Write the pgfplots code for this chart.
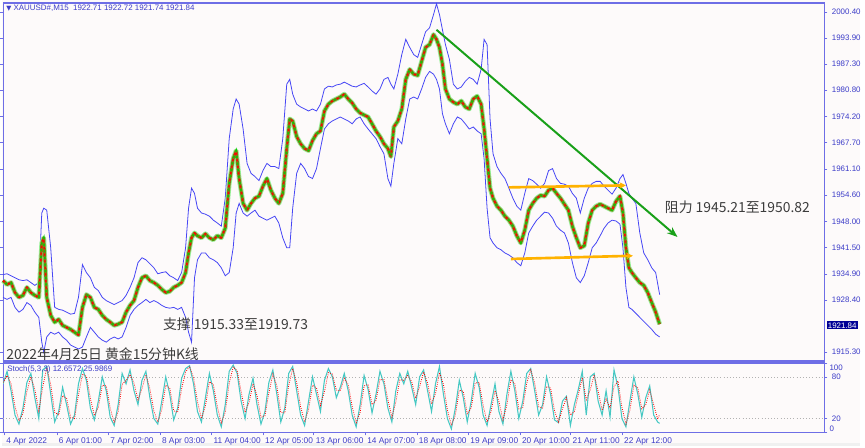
\documentclass[border=0pt]{standalone}
\usepackage{pgfplots}
\pgfplotsset{compat=1.18}
\usepackage{pgfplotstable}
\usepackage{fontspec}
\setmainfont{Liberation Sans}
\newfontfamily\cjk{Noto Sans CJK SC}
\newfontfamily\dejavu{DejaVu Sans}
\usetikzlibrary{arrows.meta}

\definecolor{bg}{RGB}{253,250,250}
\definecolor{frame}{RGB}{110,110,230}
\definecolor{lbl}{RGB}{60,60,200}
\definecolor{band}{RGB}{70,70,245}
\definecolor{candle}{RGB}{140,115,20}
\definecolor{halo}{RGB}{150,240,150}
\definecolor{cgreen}{RGB}{0,210,0}
\definecolor{trend}{RGB}{25,160,25}
\definecolor{gold}{RGB}{255,178,0}
\definecolor{kline}{RGB}{70,200,195}
\definecolor{txt}{RGB}{60,60,60}
\definecolor{pricebox}{RGB}{0,0,150}

% x = chart position (M15 bars, 2 per unit), c = close, up/lo = Bollinger bands
\pgfplotstableread{
x c up lo
0 1933.2 1934.7 1929.0
4 1932.2 1934.9 1928.5
8 1932.7 1934.4 1929.0
12 1930.2 1933.9 1926.5
16 1929.0 1933.4 1925.3
20 1929.5 1933.2 1926.0
24 1931.5 1933.4 1927.7
28 1930.2 1932.7 1927.0
32 1929.5 1932.0 1925.3
36 1929.0 1932.7 1924.0
39 1942.6 1950.1 1917.8
41 1943.9 1951.3 1915.3
44 1929.0 1950.8 1919.1
48 1924.5 1941.4 1920.3
52 1922.8 1926.5 1919.8
56 1923.5 1926.0 1920.3
60 1922.0 1925.8 1919.1
64 1921.5 1925.3 1918.3
68 1921.0 1924.8 1917.1
72 1920.3 1925.0 1916.6
76 1919.6 1929.0 1916.1
80 1926.5 1937.2 1916.6
84 1929.7 1935.2 1919.1
88 1929.0 1933.9 1921.5
92 1926.5 1931.5 1920.3
96 1926.0 1930.7 1919.1
100 1924.5 1929.0 1918.3
104 1923.5 1928.2 1917.8
108 1922.8 1927.7 1918.6
112 1922.0 1927.2 1919.1
116 1922.3 1927.7 1918.6
120 1922.8 1928.2 1919.1
124 1925.3 1929.5 1921.5
128 1927.0 1931.5 1924.5
132 1928.2 1933.9 1926.0
136 1931.5 1937.7 1927.0
140 1933.9 1938.9 1927.7
144 1934.4 1938.4 1928.5
148 1933.2 1937.4 1927.7
152 1932.7 1936.4 1928.2
156 1932.0 1934.9 1927.7
160 1931.0 1935.2 1927.0
164 1930.2 1935.4 1926.5
168 1930.5 1934.4 1926.3
172 1931.5 1933.9 1926.5
176 1932.0 1933.2 1926.0
180 1932.7 1935.2 1926.5
184 1935.2 1941.4 1924.0
187 1940.1 1951.3 1920.3
190 1943.9 1956.3 1917.8
193 1945.1 1955.0 1933.9
196 1944.4 1951.3 1938.4
200 1943.9 1950.1 1940.1
204 1944.9 1949.8 1940.1
208 1943.9 1949.3 1938.9
212 1943.4 1948.3 1938.4
216 1944.4 1947.6 1937.7
220 1943.9 1946.8 1936.4
224 1946.3 1953.8 1934.4
228 1957.5 1968.7 1935.2
232 1963.7 1976.1 1941.4
235 1965.7 1978.6 1950.1
238 1958.7 1977.3 1952.5
242 1952.5 1971.1 1950.1
246 1950.8 1962.5 1949.3
250 1952.5 1960.0 1950.1
254 1953.8 1959.2 1950.8
258 1954.3 1958.2 1949.3
262 1956.8 1960.7 1948.8
266 1958.7 1962.5 1948.3
270 1955.8 1961.7 1948.8
274 1953.8 1961.7 1949.3
278 1952.5 1961.2 1947.6
282 1955.0 1968.7 1943.9
286 1966.2 1982.3 1941.4
289 1973.6 1983.5 1941.4
292 1973.1 1979.8 1951.3
296 1969.2 1977.3 1960.0
300 1967.4 1976.6 1962.5
304 1966.2 1976.1 1961.2
308 1965.7 1975.6 1959.2
312 1968.2 1976.1 1958.7
316 1969.9 1975.6 1961.2
320 1970.6 1977.3 1966.2
324 1975.6 1981.1 1971.1
328 1977.3 1981.8 1972.4
332 1978.1 1981.6 1973.1
336 1978.6 1982.1 1973.6
340 1979.1 1982.3 1974.1
344 1979.8 1982.8 1973.6
348 1978.6 1982.3 1973.1
352 1977.6 1981.8 1972.4
356 1976.1 1981.6 1973.6
360 1975.1 1982.1 1974.1
364 1974.6 1982.5 1972.4
368 1974.1 1981.6 1971.1
372 1972.4 1980.6 1969.9
376 1970.6 1979.8 1968.7
380 1969.2 1981.1 1966.7
384 1967.4 1983.5 1964.9
388 1966.2 1984.0 1958.7
391 1964.2 1982.3 1956.8
394 1971.6 1981.1 1962.5
398 1973.1 1984.8 1968.7
402 1976.1 1989.7 1967.4
406 1983.5 1993.5 1973.6
410 1986.0 1991.5 1978.6
414 1984.8 1989.7 1979.1
418 1984.5 1989.0 1978.6
422 1988.0 1992.2 1981.1
426 1991.5 1995.4 1984.0
430 1992.2 1996.4 1985.5
434 1994.7 1999.7 1984.8
437 1993.5 2002.4 1983.5
440 1991.5 1999.7 1981.1
443 1987.3 1995.9 1974.9
446 1981.1 1992.2 1972.4
450 1978.6 1988.5 1969.9
454 1977.8 1982.3 1972.4
458 1977.3 1981.1 1974.1
462 1978.1 1981.6 1973.6
466 1976.6 1983.0 1972.4
470 1976.1 1984.0 1971.1
474 1978.6 1983.5 1971.6
478 1979.3 1982.3 1970.6
482 1977.3 1986.0 1969.9
485 1971.1 1993.5 1963.7
488 1963.7 1992.2 1951.3
491 1956.3 1973.6 1943.9
494 1953.8 1964.9 1942.6
498 1951.8 1961.7 1941.4
502 1950.8 1960.0 1940.9
506 1949.3 1958.7 1940.1
510 1948.3 1956.3 1939.6
514 1946.8 1953.8 1938.9
518 1944.4 1951.8 1937.7
522 1942.6 1950.8 1936.9
526 1945.8 1955.0 1940.1
530 1950.8 1958.7 1945.1
534 1952.5 1958.2 1946.8
538 1953.8 1957.3 1948.3
542 1954.5 1956.3 1949.3
546 1954.3 1957.5 1950.3
550 1955.8 1960.7 1950.1
554 1956.3 1961.2 1948.8
558 1955.0 1958.7 1946.8
562 1953.8 1957.5 1945.8
566 1952.3 1957.3 1945.1
570 1950.8 1956.8 1942.6
574 1946.8 1955.0 1937.7
578 1943.9 1953.8 1933.9
582 1941.4 1950.1 1932.7
586 1941.9 1953.8 1934.4
590 1947.6 1956.3 1937.7
594 1950.8 1957.5 1941.4
598 1951.8 1958.0 1942.6
602 1952.3 1958.0 1944.4
606 1951.8 1956.8 1946.3
610 1951.3 1955.8 1947.6
614 1950.8 1954.8 1948.3
618 1953.0 1956.3 1948.1
622 1954.3 1958.7 1947.3
625 1950.1 1959.7 1941.4
628 1941.4 1957.5 1931.5
631 1936.4 1955.0 1926.5
634 1935.2 1953.8 1926.0
638 1933.9 1952.5 1925.0
642 1932.7 1945.1 1924.0
646 1932.0 1940.1 1923.0
650 1930.2 1938.4 1922.0
654 1927.7 1936.4 1921.0
658 1925.3 1935.2 1919.8
662 1922.3 1929.7 1919.1
}\price

% Stochastic (5,3,3): k = main line, d = signal line
\pgfplotstableread{
x k d
0 70 72
4 88 82
8 60 70
12 25 37
16 12 17
20 35 27
24 72 59
28 85 80
32 50 62
36 20 31
40 90 66
44 95 93
48 55 69
52 15 29
56 30 25
60 65 53
64 40 49
68 12 22
72 25 20
76 70 54
80 92 84
84 75 81
88 35 49
92 18 24
96 45 36
100 80 68
104 60 67
108 22 35
112 10 14
116 40 30
120 85 69
124 70 75
128 90 83
132 60 71
136 40 47
140 75 63
144 88 83
148 50 63
152 20 31
156 12 15
160 45 33
164 80 68
168 55 64
172 18 31
176 35 29
180 78 63
184 92 87
188 96 95
192 70 79
196 30 44
200 15 20
204 50 38
208 85 73
212 60 69
216 25 37
220 8 14
224 40 29
228 88 71
232 97 94
236 85 89
240 45 59
244 20 29
248 55 43
252 78 70
256 40 53
260 12 22
264 30 24
268 72 57
272 90 84
276 55 67
280 15 29
284 35 28
288 85 68
292 95 92
296 60 72
300 25 37
304 10 15
308 45 33
312 80 68
316 55 64
320 30 39
324 75 59
328 92 86
332 80 84
336 50 61
340 65 60
344 85 78
348 60 69
352 25 37
356 8 14
360 40 29
364 82 67
368 62 69
372 28 40
376 55 46
380 88 76
384 70 76
388 35 47
392 15 22
396 60 44
400 85 76
404 70 75
408 88 82
412 65 73
416 40 49
420 80 66
424 90 87
428 60 71
432 30 41
436 70 56
440 95 86
444 55 69
448 20 32
452 5 10
456 35 25
460 75 61
464 50 59
468 15 27
472 45 35
476 85 71
480 65 72
484 25 39
488 10 15
492 40 30
496 70 60
500 30 44
504 12 18
508 55 40
512 88 76
516 60 70
520 20 34
524 45 36
528 85 71
532 92 90
536 60 71
540 25 37
544 40 35
548 80 66
552 55 64
556 18 31
560 14 15
564 45 34
568 52 50
572 10 25
576 40 30
580 62 54
584 88 79
588 25 47
592 80 61
596 85 83
600 45 59
604 25 32
608 60 48
612 22 35
616 90 66
620 65 74
624 20 36
628 8 12
632 45 32
636 80 68
640 55 64
644 22 34
648 50 40
652 67 61
656 25 40
660 15 19
662 13 26
}\stoch

\begin{document}
\begin{tikzpicture}
\begin{scope}[x=0.75pt,y=-0.75pt]
\fill[bg] (0,0) rectangle (865,450);
\fill[black!6] (0,447) rectangle (865,450);
\useasboundingbox (0,0) rectangle (865,450);
\end{scope}

% price panel
\begin{axis}[
  at={(0.75pt,-2.25pt)}, anchor=north west,
  scale only axis, width=621pt, height=270.75pt,
  xmin=0, xmax=828, ymin=1913.1, ymax=2002.6,
  clip=false,
  axis line style={frame, line width=0.8pt},
  xtick=\empty,
  ytick={1915.30,1928.40,1934.90,1941.50,1948.00,1954.60,1961.10,1967.70,1974.20,1980.80,1987.30,1993.90,2000.40},
  yticklabel pos=right,
  tick align=outside, major tick length=2.25pt,
  ytick style={frame},
  scaled y ticks=false,
  /pgf/number format/assume math mode=true,
  yticklabel style={font=\fontsize{6}{7}\selectfont, text=lbl,
    /pgf/number format/fixed, /pgf/number format/fixed zerofill,
    /pgf/number format/precision=2, /pgf/number format/1000 sep={}},
]
\addplot[band, line width=0.6pt] table[x=x, y=up] {\price};
\addplot[band, line width=0.6pt] table[x=x, y=lo] {\price};
\addplot[halo, line width=3.6pt, line join=round] table[x=x, y=c] {\price};
\addplot[candle, line width=2.2pt, line join=round] table[x=x, y=c] {\price};
\addplot[red, line width=1.1pt, dash pattern=on 1.5pt off 3.5pt] table[x=x, y=c] {\price};
\addplot[cgreen, line width=1.1pt, dash pattern=on 1.5pt off 3.5pt, dash phase=2.5pt] table[x=x, y=c] {\price};

\draw[trend, line width=1.5pt, -{Stealth[length=8pt, width=6pt]}]
  (axis cs:437,1995.9) -- (axis cs:680,1944.1);
\draw[gold, line width=2pt, -{Stealth[length=5pt, width=5pt]}]
  (axis cs:510,1956.5) -- (axis cs:628,1957.0);
\draw[gold, line width=2pt, -{Stealth[length=5pt, width=5pt]}]
  (axis cs:512,1938.6) -- (axis cs:635,1939.4);
\end{axis}

% stochastic panel
\begin{axis}[
  at={(0.75pt,-274.5pt)}, anchor=north west,
  scale only axis, width=621pt, height=52.5pt,
  xmin=0, xmax=828, ymin=0, ymax=100,
  axis line style={frame, line width=0.8pt},
  ytick={20,80}, yticklabel pos=right,
  extra y ticks={0,100}, extra y tick labels={},
  xtick={1,54,106,158,210,262,313,365,417,469,521,572,624},
  xticklabels={4 Apr 2022,6 Apr 01:00,7 Apr 02:00,8 Apr 03:00,11 Apr 04:00,12 Apr 05:00,13 Apr 06:00,14 Apr 07:00,18 Apr 08:00,19 Apr 09:00,20 Apr 10:00,21 Apr 11:00,22 Apr 12:00},
  xtick pos=bottom,
  tick align=outside, major tick length=2.25pt,
  tick style={frame},
  /pgf/number format/assume math mode=true,
  yticklabel style={font=\fontsize{6}{7}\selectfont, text=lbl},
  xticklabel style={font=\fontsize{6.3}{7}\selectfont, text=lbl, anchor=north west, inner sep=1.5pt},
]
\draw[black!30, dotted] (axis cs:0,20) -- (axis cs:828,20);
\draw[black!30, dotted] (axis cs:0,80) -- (axis cs:828,80);
\addplot[kline, line width=0.8pt] table[x=x, y=k] {\stoch};
\addplot[red, densely dotted, line width=0.6pt] table[x=x, y=d] {\stoch};
\end{axis}

\begin{scope}[x=0.75pt,y=-0.75pt]
\node[anchor=west, inner sep=0, text=lbl, font=\fontsize{6}{7}\selectfont]
  at (4,8) {{\dejavu\fontsize{5}{6}\selectfont ▼} XAUUSD\#,M15\ \ 1922.71 1922.72 1921.74 1921.84};
\node[anchor=west, inner sep=0, text=lbl, font=\fontsize{6}{7}\selectfont]
  at (5,373) {Stoch(5,3,3) 12.6572 25.9869};
\node[anchor=west, inner sep=1pt, fill=pricebox, text=white, font=\fontsize{6}{7}\selectfont]
  at (831,328) {1921.84};
\node[anchor=west, inner sep=0, text=lbl, font=\fontsize{6}{7}\selectfont] at (834,371) {100};
\node[anchor=west, inner sep=0, text=lbl, font=\fontsize{6}{7}\selectfont] at (834,432) {0};
\node[anchor=west, inner sep=0, text=txt, font=\cjk\fontsize{10.5}{12}\selectfont]
  at (162,327) {支撑 1915.33至1919.73};
\node[anchor=west, inner sep=0, text=txt, font=\cjk\fontsize{10.5}{12}\selectfont]
  at (668,209) {阻力 1945.21至1950.82};
\node[anchor=west, inner sep=0, text=txt, font=\cjk\fontsize{10.5}{12}\selectfont]
  at (4,357) {2022年4月25日 黄金15分钟K线};
\end{scope}
\end{tikzpicture}
\end{document}
